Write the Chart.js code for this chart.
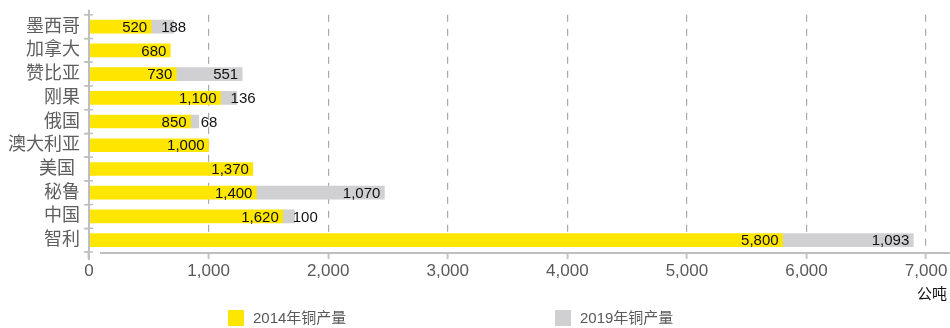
<!DOCTYPE html>
<html>
<head>
<meta charset="utf-8">
<script src="https://cdn.jsdelivr.net/npm/chart.js@4"></script>
<style>
  html, body { margin: 0; padding: 0; background: #fff; }
  #wrap { width: 950px; height: 328px; }
</style>
</head>
<body>
<div id="wrap"><canvas id="copperChart" width="950" height="328"></canvas></div>
<script>
"use strict";

/* ===== DATA ===== */
const countries = ["墨西哥", "加拿大", "赞比亚", "刚果", "俄国", "澳大利亚", "美国 ", "秘鲁", "中国", "智利"];
const prod2014 = [520, 680, 730, 1100, 850, 1000, 1370, 1400, 1620, 5800];
const prod2019 = [188, null, 551, 136, 68, null, null, 1070, 100, 1093];
const xTicks = [0, 1000, 2000, 3000, 4000, 5000, 6000, 7000];
const seriesNames = ["2014年铜产量", "2019年铜产量"];
const unitLabel = "公吨";

/* ===== STYLE ===== */
const YELLOW = "#FFE600";
const GREY = "#D0D0D2";
const AXIS = "#BFBFBF";
const TEXT_GREY = "#595959";
const FONT = "'Liberation Sans', 'Noto Sans CJK SC', sans-serif";

const fmt = v => v.toLocaleString("en-US");

/* labels, axis lines, unit and legend */
const extras = {
  id: "extras",
  afterDatasetsDraw(chart) {
    const ctx = chart.ctx;
    ctx.save();
    ctx.font = "15px " + FONT;
    ctx.fillStyle = "#111";
    ctx.textBaseline = "middle";

    // 2014 labels: inside the end
    chart.getDatasetMeta(0).data.forEach((el, i) => {
      ctx.textAlign = "right";
      ctx.fillText(fmt(prod2014[i]), el.x - 4, el.y + 1);
    });

    // 2019 labels: inside end when it fits, else just after the yellow
    chart.getDatasetMeta(1).data.forEach((el, i) => {
      const v = prod2019[i];
      if (v === null) return;
      const txt = fmt(v);
      const w = ctx.measureText(txt).width;
      if (el.x - el.base > w + 8) {
        ctx.textAlign = "right";
        ctx.fillText(txt, el.x - 4, el.y + 1);
      } else {
        ctx.textAlign = "left";
        ctx.fillText(txt, el.base + 10, el.y + 1);
      }
    });
    ctx.restore();
  },
  afterDraw(chart) {
    const ctx = chart.ctx;
    const area = chart.chartArea;
    const x0 = chart.scales.x.getPixelForValue(0);

    ctx.save();
    ctx.strokeStyle = AXIS;
    ctx.lineWidth = 2;
    // y axis
    ctx.beginPath();
    ctx.moveTo(x0, area.top - 5);
    ctx.lineTo(x0, area.bottom + 8);
    ctx.stroke();
    // small cross ticks on the category boundaries
    const ys = chart.scales.y;
    ctx.lineWidth = 1.5;
    for (let i = 0; i <= countries.length; i++) {
      const y = ys.getPixelForValue(i - 0.5);
      ctx.beginPath();
      ctx.moveTo(x0 - 4, y);
      ctx.lineTo(x0 + 4, y);
      ctx.stroke();
    }
    // x axis
    ctx.lineWidth = 2;
    ctx.beginPath();
    ctx.moveTo(x0 + 11, area.bottom + 1);
    ctx.lineTo(chart.width, area.bottom + 1);
    ctx.stroke();

    // unit
    ctx.font = "15px " + FONT;
    ctx.fillStyle = "#111";
    ctx.textAlign = "right";
    ctx.textBaseline = "middle";
    ctx.fillText(unitLabel, 947, 295);

    // legend
    const items = [[228, YELLOW], [555, GREY]];
    ctx.textAlign = "left";
    items.forEach(([lx, col], i) => {
      ctx.fillStyle = col;
      ctx.fillRect(lx, 310, 16, 16);
      ctx.fillStyle = TEXT_GREY;
      ctx.fillText(seriesNames[i], lx + 25, 319);
    });
    ctx.restore();
  }
};

new Chart(document.getElementById("copperChart").getContext("2d"), {
  type: "bar",
  data: {
    labels: countries,
    datasets: [
      { label: seriesNames[0], data: prod2014, backgroundColor: YELLOW, barThickness: 13, borderWidth: 0 },
      { label: seriesNames[1], data: prod2019, backgroundColor: GREY, barThickness: 13, borderWidth: 0 }
    ]
  },
  options: {
    indexAxis: "y",
    responsive: false,
    animation: false,
    layout: { padding: { top: 8, right: 0, bottom: 0, left: 0 } },
    plugins: { legend: { display: false }, tooltip: { enabled: false } },
    scales: {
      x: {
        stacked: true,
        min: 0,
        max: 7200,
        afterFit(s) { s.height = 76; },
        afterBuildTicks(s) { s.ticks = xTicks.map(v => ({ value: v })); },
        ticks: {
          stepSize: 1000,
          autoSkip: false,
          maxRotation: 0,
          padding: 2,
          color: TEXT_GREY,
          font: { family: FONT, size: 17 },
          callback: v => fmt(v)
        },
        grid: {
          color: "#A9A9A9",
          lineWidth: 1.2,
          drawTicks: true,
          tickLength: 7,
          tickColor: "#C6C6C6",
          tickWidth: 2
        },
        border: { display: false, dash: [7, 7] }
      },
      y: {
        stacked: true,
        afterFit(s) { s.width = 89; },
        ticks: {
          autoSkip: false,
          padding: 4,
          color: "#5E5E5E",
          font: { family: FONT, size: 18 }
        },
        grid: {
          drawOnChartArea: false,
          drawTicks: true,
          tickLength: 5,
          color: AXIS,
          lineWidth: 1.5
        },
        border: { display: false }
      }
    }
  },
  plugins: [extras]
});
</script>
</body>
</html>
